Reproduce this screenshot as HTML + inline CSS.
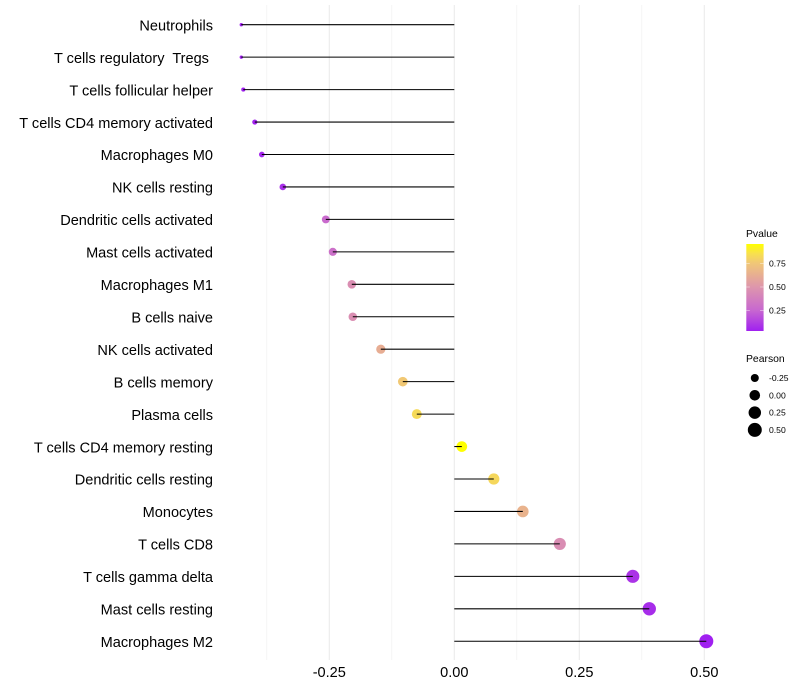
<!DOCTYPE html>
<html>
<head>
<meta charset="utf-8">
<title>Immune cell correlation lollipop chart</title>
<style>
html,body{margin:0;padding:0;background:#fff;width:800px;height:700px;overflow:hidden}
svg{display:block;font-family:"Liberation Sans",sans-serif}
text{white-space:pre}
</style>
</head>
<body>
<svg id="chart" width="800" height="700" viewBox="0 0 800 700" xmlns="http://www.w3.org/2000/svg">
<defs>
<linearGradient id="pv-grad" x1="0" y1="1" x2="0" y2="0">
<stop offset="0" stop-color="#A020F0"/>
<stop offset="0.237" stop-color="#C767D0"/>
<stop offset="0.507" stop-color="#DE96AC"/>
<stop offset="0.777" stop-color="#F0C678"/>
<stop offset="0.89" stop-color="#F8E04E"/>
<stop offset="1" stop-color="#FFFF00"/>
</linearGradient>
</defs>
<g id="grid"></g>
<g id="marks"></g>
<g id="ylabels"></g>
<g id="xlabels"></g>
<g id="legend-color">
<text x="746" y="237" font-size="10.4" fill="#000">Pvalue</text>
<rect x="746.3" y="244" width="17.3" height="87" fill="url(#pv-grad)"/>
</g>
<g id="legend-size">
<text x="746" y="362" font-size="10.4" fill="#000">Pearson</text>
</g>
</svg>
<script>
const categories = ["Neutrophils","T cells regulatory  Tregs ","T cells follicular helper","T cells CD4 memory activated","Macrophages M0","NK cells resting","Dendritic cells activated","Mast cells activated","Macrophages M1","B cells naive","NK cells activated","B cells memory","Plasma cells","T cells CD4 memory resting","Dendritic cells resting","Monocytes","T cells CD8","T cells gamma delta","Mast cells resting","Macrophages M2"];
const pearson = [-0.426,-0.426,-0.422,-0.399,-0.385,-0.343,-0.257,-0.243,-0.205,-0.203,-0.147,-0.103,-0.075,0.015,0.079,0.137,0.211,0.357,0.39,0.504];
const pvalue = [0.03,0.03,0.03,0.04,0.05,0.08,0.27,0.3,0.46,0.46,0.62,0.76,0.83,0.957,0.82,0.65,0.45,0.09,0.07,0.03];
const xMajorTicks = [-0.25,0,0.25,0.5];
const xMinorTicks = [-0.375,-0.125,0.125,0.375];
const xTickLabels = ["-0.25","0.00","0.25","0.50"];
const colorTicks = [0.25,0.5,0.75];
const colorTickLabels = ["0.25","0.50","0.75"];
const sizeBreaks = [-0.25,0,0.25,0.5];
const sizeLabels = ["-0.25","0.00","0.25","0.50"];

const NS = "http://www.w3.org/2000/svg";
function mk(tag, attrs, parent, txt){
  const el = document.createElementNS(NS, tag);
  for (const k in attrs) el.setAttribute(k, attrs[k]);
  if (txt !== undefined) el.textContent = txt;
  parent.appendChild(el);
  return el;
}
const xScale = v => 454.3 + v * 500;
const yScale = i => 24.7 + i * 32.45;
const minP = -0.426, maxP = 0.504;
const rScale = v => 1.7 + 5.3 * Math.sqrt(Math.max(0, (v - minP) / (maxP - minP)));
const colorStops = [[0.03,[160,32,240]],[0.25,[199,103,208]],[0.5,[222,150,172]],[0.75,[240,198,120]],[0.855,[248,224,78]],[0.957,[255,255,0]]];
function colorScale(p){
  if (p <= colorStops[0][0]) return "rgb(160,32,240)";
  for (let i = 1; i < colorStops.length; i++){
    if (p <= colorStops[i][0]){
      const a = colorStops[i-1], b = colorStops[i], t = (p - a[0]) / (b[0] - a[0]);
      const c = a[1].map((n, j) => Math.round(n + (b[1][j] - n) * t));
      return "rgb(" + c.join(",") + ")";
    }
  }
  return "rgb(255,255,0)";
}

const grid = document.getElementById("grid");
xMinorTicks.forEach(v => {
  const l = mk("line", {x1:xScale(v), x2:xScale(v), y1:5, y2:660, stroke:"#f0f0f0", "stroke-width":0.7}, grid);
  
  
});
xMajorTicks.forEach(v => {
  const l = mk("line", {x1:xScale(v), x2:xScale(v), y1:5, y2:660, stroke:"#ebebeb", "stroke-width":1.07}, grid);
  
  
});

const marks = document.getElementById("marks");
categories.forEach((c, i) => {
  const dot = mk("circle", {cx:xScale(pearson[i]), cy:yScale(i), r:rScale(pearson[i]), fill:colorScale(pvalue[i])}, marks);
  
  
  const seg = mk("line", {x1:xScale(0), x2:xScale(pearson[i]), y1:yScale(i), y2:yScale(i), stroke:"#000", "stroke-width":1.07}, marks);
  
  
});

const ylabels = document.getElementById("ylabels");
categories.forEach((c, i) => {
  const t = mk("text", {x:213, y:yScale(i) + 5.7, "text-anchor":"end", "font-size":14.55, fill:"#000"}, ylabels, c);
  
  
});

const xlabels = document.getElementById("xlabels");
xMajorTicks.forEach((v, i) => {
  const t = mk("text", {x:xScale(v), y:677, "text-anchor":"middle", "font-size":14.55, fill:"#000"}, xlabels, xTickLabels[i]);
  
  
});

const legendColor = document.getElementById("legend-color");
const barY = p => 334 - p * 94;
colorTicks.forEach((p, i) => {
  const y = barY(p);
  const a = mk("line", {x1:746.3, x2:749.8, y1:y, y2:y, stroke:"#fff", "stroke-opacity":0.7, "stroke-width":0.6}, legendColor);
  
  
  const b = mk("line", {x1:760.1, x2:763.6, y1:y, y2:y, stroke:"#fff", "stroke-opacity":0.7, "stroke-width":0.6}, legendColor);
  
  
  const t = mk("text", {x:769, y:y + 3, "font-size":8.6, fill:"#000"}, legendColor, colorTickLabels[i]);
  
  
});

const legendSize = document.getElementById("legend-size");
sizeBreaks.forEach((v, i) => {
  const y = 378 + i * 17.3;
  const d = mk("circle", {cx:754.8, cy:y, r:rScale(v), fill:"#000"}, legendSize);
  
  
  const t = mk("text", {x:769, y:y + 3, "font-size":8.6, fill:"#000"}, legendSize, sizeLabels[i]);
  
  
});
</script>
</body>
</html>
